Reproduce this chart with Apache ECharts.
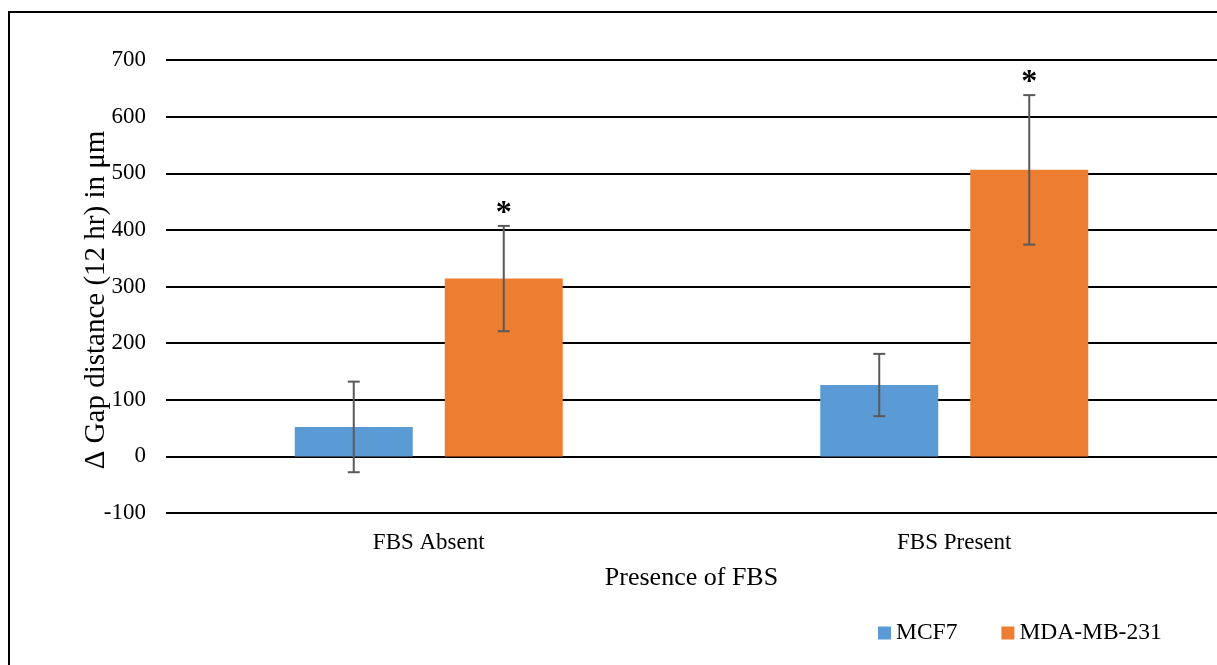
<!DOCTYPE html>
<html>
<head>
<meta charset="utf-8">
<script src="https://cdn.jsdelivr.net/npm/echarts@6/dist/echarts.min.js"></script>
<style>
  html, body { margin: 0; padding: 0; background: #fff; }
  #chart { width: 1217px; height: 665px; }
</style>
</head>
<body>
<div id="chart"></div>
<script>
// categories and values
var categories = ['FBS Absent', 'FBS Present'];
var seriesNames = ['MCF7', 'MDA-MB-231'];
var mcf7 = [52, 126];
var mcf7Err = [80, 55];
var mda = [314, 506];
var mdaErr = [93, 132];
var mdaStar = [true, true];   // significance marks over MDA-MB-231
var yTicks = { min: -100, max: 700, interval: 100 };

var FONT = 'Liberation Serif';
var BAR_W = 118;
var GAP_PX = 32;

// error bar + optional star, one custom series per bar series
function errorSeries(values, errs, side, stars) {
  var data = values.map(function (v, i) {
    return [i, v - errs[i], v + errs[i], stars && stars[i] ? 1 : 0];
  });
  return {
    type: 'custom',
    z: 10,
    silent: true,
    data: data,
    renderItem: function (params, api) {
      var off = side * (BAR_W + GAP_PX) / 2;
      var lo = api.coord([api.value(0), api.value(1)]);
      var hi = api.coord([api.value(0), api.value(2)]);
      var x = lo[0] + off;
      var cap = 6;
      var st = { stroke: '#595959', lineWidth: 2 };
      var kids = [
        { type: 'line', shape: { x1: x, y1: hi[1], x2: x, y2: lo[1] }, style: st },
        { type: 'line', shape: { x1: x - cap, y1: hi[1], x2: x + cap, y2: hi[1] }, style: st },
        { type: 'line', shape: { x1: x - cap, y1: lo[1], x2: x + cap, y2: lo[1] }, style: st }
      ];
      if (api.value(3)) {
        kids.push({
          type: 'text',
          style: {
            text: '*', x: x, y: hi[1] + 4,
            align: 'center', verticalAlign: 'bottom',
            font: 'bold 32px "' + FONT + '"', fill: '#000'
          }
        });
      }
      return { type: 'group', children: kids };
    }
  };
}

var chart = echarts.init(document.getElementById('chart'));
var option = {
  backgroundColor: '#fff',
  animation: false,
  graphic: [
    {
      type: 'rect',
      shape: { x: 9, y: 12, width: 1260, height: 700 },
      style: { fill: 'none', stroke: '#000', lineWidth: 2 }
    },
    {
      type: 'text',
      x: 96, y: 300,
      rotation: Math.PI / 2,
      style: {
        text: 'Δ Gap distance (12 hr) in μm',
        align: 'center', verticalAlign: 'middle',
        font: '29px "' + FONT + '"', fill: '#000'
      }
    }
  ],
  grid: { left: 166, right: -1, top: 60, bottom: 152 },
  legend: {
    left: 873, top: 616,
    itemWidth: 13, itemHeight: 13, itemGap: 44,
    icon: 'rect',
    textStyle: { fontFamily: FONT, fontSize: 23.5, color: '#000' },
    data: seriesNames
  },
  xAxis: {
    type: 'category',
    data: categories,
    name: 'Presence of FBS',
    nameLocation: 'middle',
    nameGap: 52,
    nameMoveOverlap: false,
    nameTextStyle: { fontFamily: FONT, fontSize: 26, color: '#000' },
    axisLine: { show: false },
    axisTick: { show: false },
    axisLabel: { fontFamily: FONT, fontSize: 23, color: '#000', margin: 18 }
  },
  yAxis: {
    type: 'value',
    min: yTicks.min, max: yTicks.max, interval: yTicks.interval,
    axisLine: { show: false },
    axisTick: { show: false },
    axisLabel: { fontFamily: FONT, fontSize: 23, color: '#000', margin: 20 },
    splitLine: { lineStyle: { color: '#000', width: 2 } }
  },
  series: [
    {
      name: seriesNames[0], type: 'bar', data: mcf7,
      barWidth: BAR_W, barGap: (GAP_PX / BAR_W * 100) + '%',
      itemStyle: { color: '#5B9BD5' }
    },
    {
      name: seriesNames[1], type: 'bar', data: mda,
      barWidth: BAR_W,
      itemStyle: { color: '#ED7D31' }
    },
    errorSeries(mcf7, mcf7Err, -1, null),
    errorSeries(mda, mdaErr, 1, mdaStar)
  ]
};
chart.setOption(option);
</script>
</body>
</html>
